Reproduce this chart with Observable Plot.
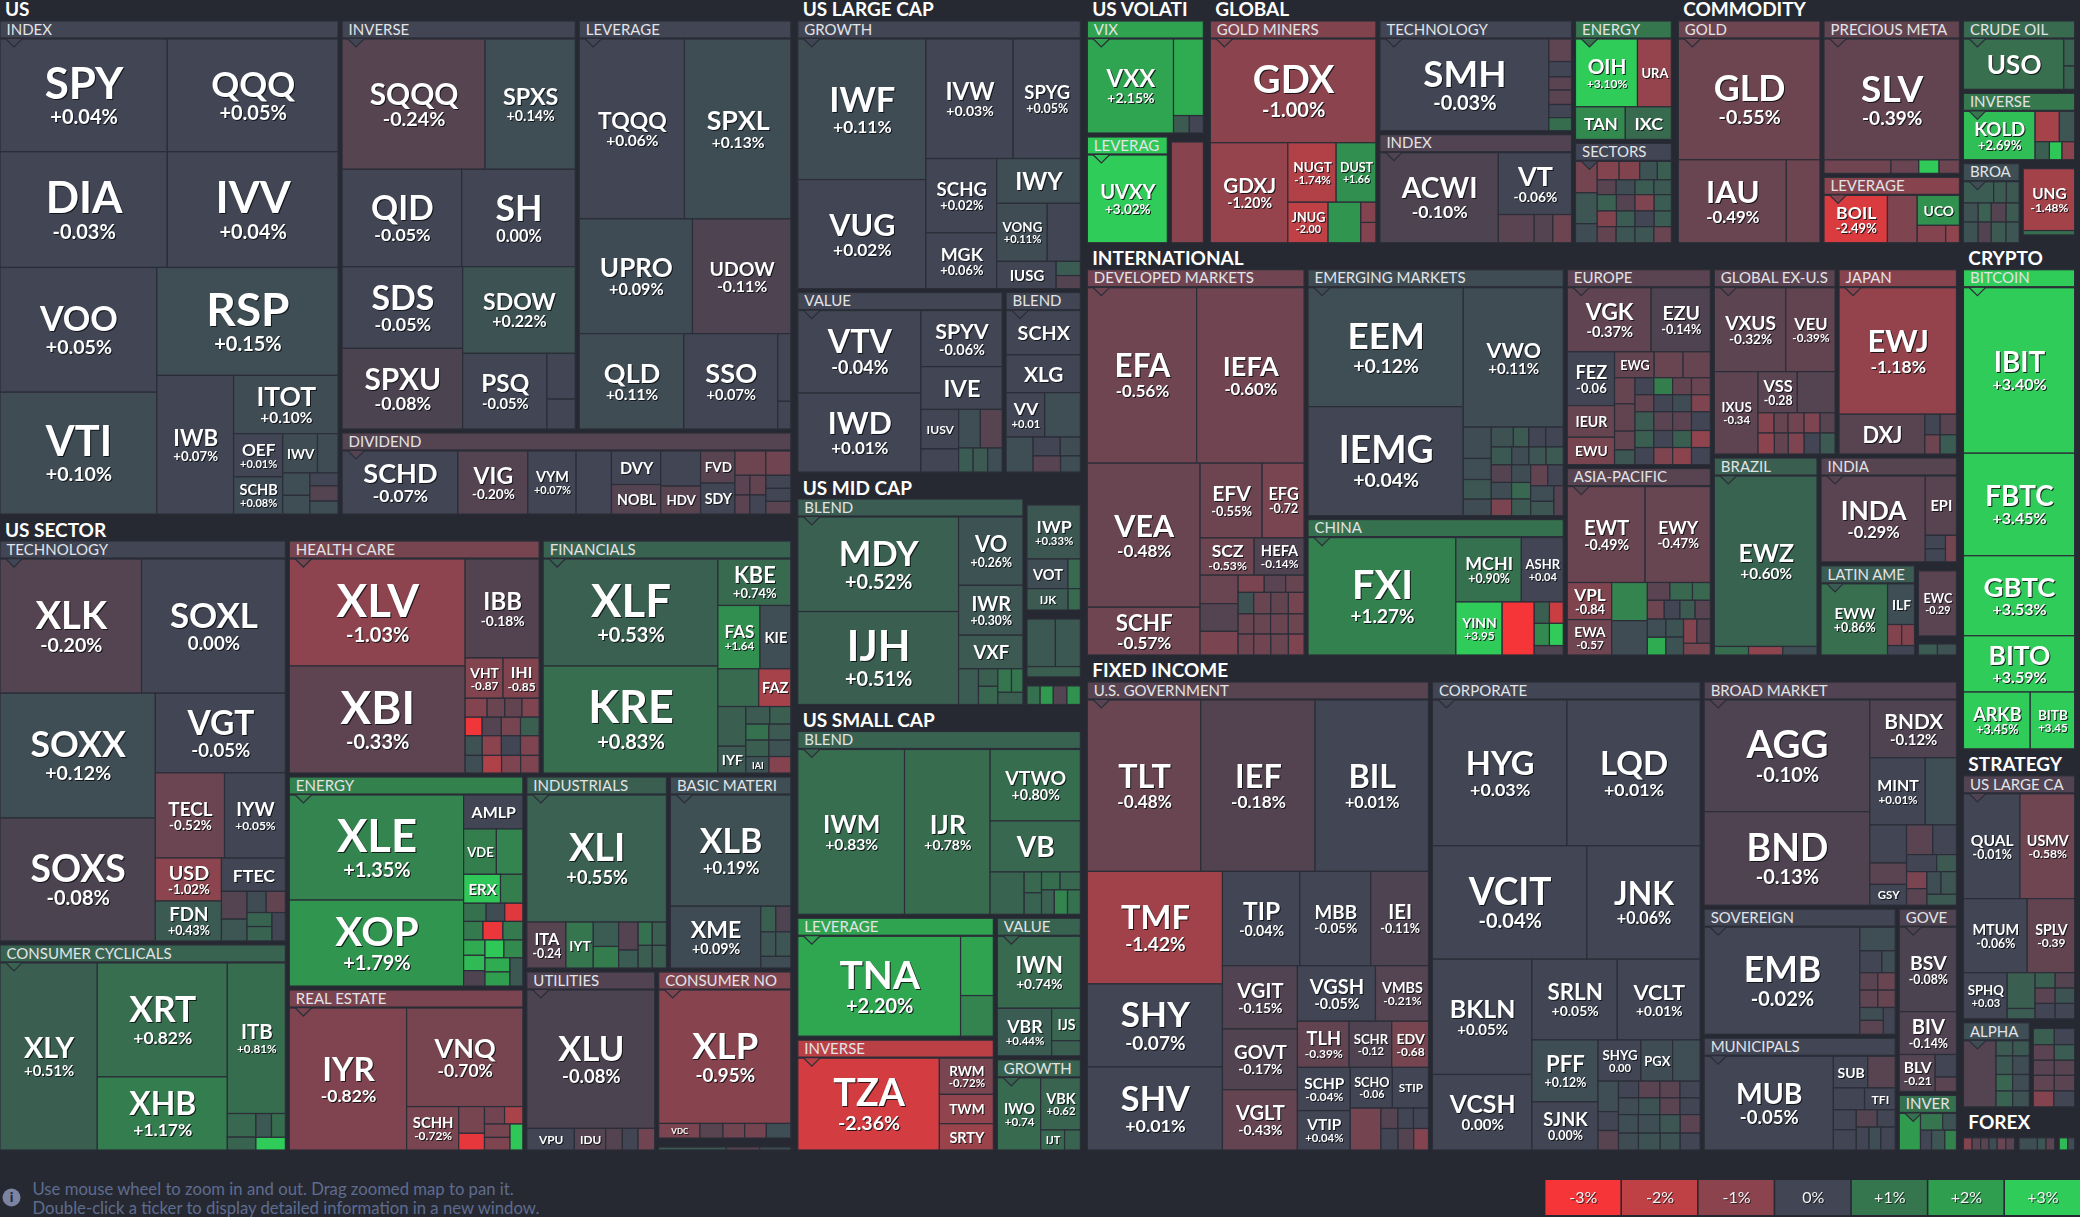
<!DOCTYPE html>
<html><head><meta charset="utf-8">
<style>html,body{margin:0;padding:0;background:#262931;overflow:hidden}</style>
<script src="https://cdn.jsdelivr.net/npm/d3@7"></script>
<script src="https://cdn.jsdelivr.net/npm/@observablehq/plot@0.6"></script>
</head><body><div id="chart"></div>
<script>
// Each leaf: [ticker, % change, size, (0 = change label not shown)]. Sizes are read off the picture.
const usIndex=["v",["h",["SPY",.04,186],["QQQ",.05,190]],["h",["DIA",-.03,191],["IVV",.04,195]],
 ["h",["v",["VOO",.05,193],["VTI",.1,188.5]],
  ["v",["RSP",.15,193],["h",["IWB",.07,105],["v",["ITOT",.1,60],
   ["h",["v",["OEF",.01,21],["SCHB",.08,18]],
    ["v",["h",["IWV",.1,13.5,0],["",.1,8]],["h",["v",["",.12,6],["",.12,5]],["v",["",-.03,3.6],["",-.2,4.2],["",.12,3.6]]]]]]]]]];
const usInverse=["v",["h",["SQQQ",-.24,187],["SPXS",.14,118]],["h",["QID",-.05,117],["SH",0,111]],
 ["h",["v",["SDS",-.05,99],["SPXU",-.08,97.5]],["v",["SDOW",.22,98],["h",["PSQ",-.05,64],["v",["",-.03,13],["",-.03,8.5]]]]]];
const usLeverage=["v",["h",["TQQQ",.06,188],["SPXL",.13,190]],["h",["UPRO",.09,129],["UDOW",-.11,112]],
 ["h",["QLD",.11,99],["SSO",.07,89],["v",["",-.03,8.8],["",-.03,3.6]]]];
const usDividend=["h",["SCHD",-.07,72],["VIG",-.2,43.5],["VYM",.07,30],["",-.03,22],["v",["DVY",-.05,16.3,0],["NOBL",-.2,14.3,0]],
 ["v",["",-.02,13.8],["HDV",-.25,11,0]],["v",["FVD",-.25,10.9,0],["SDY",-.05,10.5,0]],
 ["v",["h",["",-.55,7.4],["",-.6,6]],["h",["v",["",-.3,2.9],["",-.3,2.8]],["v",["",-.4,3.1],["",-.02,3]],["v",["",-.05,3.2],["",-.05,3.2],["",-.3,3.1]]]]];
const secTech=["v",["h",["XLK",-.2,187],["SOXL",0,190]],
 ["h",["v",["SOXX",.12,191],["SOXS",-.08,188]],
  ["v",["VGT",-.05,102],["h",["TECL",-.52,58],["IYW",.05,51]],
   ["h",["v",["USD",-1.02,28],["FDN",.43,26]],
    ["v",["FTEC",0,21,0],["h",["v",["",-.2,7],["",.3,5.5]],["v",["h",["",.1,4],["",-.4,4]],["h",["v",["",.6,3.4],["",.6,3.5]],["",-.03,3.8]]]]]]]]];
const secCyclical=["h",["XLY",.51,178],["v",["XRT",.82,145],["XHB",1.17,93]],
 ["v",["ITB",.81,85.5],["h",["v",["",.7,6.6],["",.6,3.6]],["v",["h",["",.35,3.6],["",.8,3.2]],["",3,3.7]]]]];
const secHealth=["h",["v",["XLV",-1.03,185],["XBI",-.33,185]],
 ["v",["IBB",-.18,72],["h",["VHT",-.87,15],["IHI",-.85,14.3]],
  ["h",["",-.9,4.1],["",-.5,3.3],["",-.4,3.2],["",-.8,3.2]],
  ["h",["",-2.9,3.1],["",-.2,3.5],["",-.7,3.5],["",.5,3.4]],
  ["h",["",.2,3.3],["",-1,3.7],["",0,3.7],["",-.8,3.6]],
  ["h",["",.15,3],["",-1.7,3.3],["",-.8,3.3],["",-.8,3.2]]]];
const secFinancials=["h",["v",["XLF",.53,182],["KRE",.83,182]],
 ["v",["KBE",.74,33],["h",["FAS",1.64,26],["KIE",.12,19,0]],["h",["",.75,15],["FAZ",-1.5,11.8,0]],
  ["h",["v",["",.5,10.8],["IYF",.4,7.3,0]],
   ["v",["h",["",.4,4.1],["",.5,3.6]],["h",["",.9,3.6],["",.4,3.4]],["h",["",.5,3.7],["",.2,3.5]],["h",["IAI",.25,3.7,0],["",-.9,3.5]]]]]];
const secEnergy=["h",["v",["XLE",1.35,178.5],["XOP",1.79,146]],
 ["v",["AMLP",.02,19.6,0],["h",["VDE",1.2,14.5,0],["",1.35,11.7]],["h",["ERX",2.9,10.4,0],["",1.2,6.3]],
  ["h",["",.9,4],["",.1,3.3],["",-2.6,3.2]],["h",["",1.1,3.5],["",-2.8,3.6],["",1.1,3.6]],
  ["h",["v",["",2.3,3.2],["",2.6,3.2],["",-.1,3.2]],
   ["v",["h",["",2.9,3.3],["",1.5,3.3]],["h",["v",["",2.3,3.4],["",2,3.4]],["",.35,3.6]]]]]];
const secRealEstate=["h",["IYR",-.82,162],["v",["VNQ",-.7,111.5],
 ["h",["SCHH",-.72,22],["v",["",-.7,6.7],["",-2.7,4.2]],["v",["h",["",-.6,3.4],["",-1.6,3.1]],["h",["v",["",-.7,3.3],["",-.8,3.1]],["",2.9,3.3]]]]]];
const secIndustrials=["v",["XLI",.55,172],["h",["ITA",-.24,17.4],["IYT",1,12.2,0],["v",["",.45,6],["",1.15,5.3]],["v",["",-.2,5.3],["",.45,3.4]],
 ["v",["h",["",.9,3.2],["",.5,3.2]],["h",["",.5,3.1],["",.5,3.1]]]]];
const secBasic=["v",["XLB",.19,132],["h",["XME",.09,55],["v",["h",["",.5,3.8],["",-.1,3.8]],["h",["",.3,3.6],["",.3,3.6]],["",.1,3.5]]]];
const secUtilities=["v",["XLU",-.08,172.5],["h",["VPU",-.02,10,0],["IDU",-.2,6.6,0],["",-.2,3.5],["",0,3.3],["",-.6,3.5]]];
const secNonCyclical=["v",["XLP",-.95,173],["h",["VDC",-.75,5.9,0],["",-.25,3.3],["",-.6,3.1],["",-.65,3.1],["",.15,3.5]]];
const secComm=["h",["",.35,63],["",-.3,31],["",.1,29]];

const lcGrowth=["h",["v",["IWF",.11,178],["VUG",.02,138]],
 ["v",["h",["IVW",.03,103],["SPYG",.05,79.5]],
  ["h",["v",["SCHG",.02,52],["MGK",.06,39]],
   ["v",["IWY",.12,37,0],["h",["VONG",.11,29],["",.05,19]],["h",["IUSG",.04,16,0],["v",["",.45,3.4],["",-.2,3.1]]]]]]];
const lcValue=["h",["v",["VTV",-.04,99.4],["IWD",.01,95]],
 ["v",["SPYV",-.06,44.5],["IVE",-.05,34,0],
  ["h",["v",["IUSV",-.05,14.6,0],["",-.02,8.5]],["v",["h",["",.15,8.2],["",-.25,8.2]],["h",["",.45,3.4],["",.4,3.4],["",.15,3.4]]]]]];
const lcBlend=["v",["SCHX",.03,32,0],["XLG",.07,27.4,0],["h",["VV",.01,16.7],["",.12,15.4]],
 ["h",["",.12,9.2],["v",["h",["",0,5],["",.1,3.7]],["h",["",-.25,4.3],["",.12,3.1]]]]];
const mcBlend=["h",["v",["MDY",.52,147.6],["IJH",.51,145]],
 ["v",["VO",.26,42.7],["IWR",.3,31.2],["VXF",.4,21,0],
  ["h",["",.45,6.9],["v",["",.5,3.3],["",.7,3.4]],["v",["h",["",1,3.1],["",1,2.6]],["",.5,3]]]]];
const mcSideA=["v",["IWP",.33,27.5],["h",["VOT",.1,11.6,0],["",.75,3.5]],["h",["IJK",.4,8.4,0],["",.75,2.5]]];
const mcSideB=["v",["h",["",.35,12.9],["",.35,11.3]],["",.5,5.3]];
const mcSideC=["h",["",.9,12],["",1.9,12],["",-.2,12.4],["",1.7,12.2]];
const scBlend=["h",["IWM",.83,174.6],["IJR",.78,140],
 ["v",["VTWO",.8,64],["VB",.7,45.7,0],
  ["h",["",.6,14.3],["v",["",.7,3.6],["",.6,3.7]],["v",["h",["",.8,3.3],["",.7,3.6]],["h",["",.55,3.1],["",1.35,3.2],["",.9,3.1]]]]]];
const scLeverage=["h",["TNA",2.2,159],["v",["",2.1,19],["",1.35,13]]];
const scInverse=["h",["TZA",-2.36,126.5],["v",["RWM",-.72,19],["TWM",-1.1,15.4,0],["SRTY",-1.3,13.8,0]]];
const scValue=["v",["IWN",.74,57.8],["h",["VBR",.44,25],["v",["IJS",.65,9,0],["",.5,4.2]]]];
const scGrowth=["h",["IWO",.74,30.7],["v",["VBK",.62,20.3],["h",["IJT",.7,4.7,0],["",.6,3.1]]]];

const volVix=["h",["VXX",2.15,79.4],["v",["",2.3,22.4],["h",["",.4,2.7],["",0,2.4]]]];
const volLeverage=["UVXY",3.02,1];
const volOther=["",-.95,1];

const glGoldMiners=["v",["GDX",-1,168.5],["h",["GDXJ",-1.2,76],
 ["v",["h",["NUGT",-1.74,28.2],["DUST",1.66,23.2]],["h",["JNUG",-2,16],["",1.8,13],["v",["",-.9,3],["",-.9,3]]]]]];
const glTech=["h",["SMH",-.03,151.6],["v",["",-.35,5],["",0,3.4],["",-.3,2.9],["",-.3,3.2],["",0,2.9],["",.8,2.9]]];
const glIndex=["h",["ACWI",-.1,105.6],["v",["VT",-.06,44.8],["h",["",-.3,10],["",-.2,5.2],["",-.55,5.2]]]];
const glEnergy=["v",["h",["OIH",3.1,41],["URA",-1.2,22.4,0]],["h",["TAN",1.5,15.8,0],["IXC",.75,14.6,0]]];
const glSectors=["h",["v",["",-.65,6.1],["",.3,6],["",.1,3.7]],
 ["v",["h",["",-.9,3.6],["",-.85,3.4],["",.25,2.9],["",.5,2.3]],
  ["h",["",-.25,2.5],["",.1,2.5],["",.45,2.5],["",.35,2.3]],
  ["h",["",.55,2.8],["",-.2,2.7],["",-.8,2.8],["",.45,2.5]],
  ["h",["",-.85,2.7],["",.45,2.6],["",-.05,2.7],["",.45,2.4]],
  ["h",["",-.4,2.7],["",.3,2.7],["",.3,2.7],["",-.5,2.5]]]];

const cmGold=["v",["GLD",-.55,169],["h",["IAU",-.49,88.5],["",-.55,27.6]]];
const cmPrecious=["v",["SLV",-.39,161.6],["h",["",-.6,8.9],["",-.5,3.7],["",2.95,2.7],["",-.55,2.7]]];
const cmLeverage=["h",["BOIL",-2.49,29.2],["",-.8,13.7],["v",["UCO",1.7,12.3,0],["h",["",-.9,4.8],["",-1.1,2.3]]]];
const cmCrude=["h",["USO",.85,50.2,0],["v",["",.6,2.9],["",.6,2.5]]];
const cmInverse=["h",["KOLD",2.69,33.8],["v",["h",["",-1.5,7.2],["",.3,4.5]],["h",["",.5,2.5],["",2.9,2.2],["",-1,2.2]]]];
const cmBroad=["v",["h",["",.45,5.7],["",.4,2.4],["",.35,2.4]],["h",["",.2,2.5],["",.55,2.2],["",-.2,2.5],["",.4,2.2]],["h",["",.25,2.7],["",-.15,2.4],["",.4,2.7],["",.3,2.4]]];
const cmUng=["v",["UNG",-1.48,31],["",.8,2.2]];

const inDeveloped=["v",["h",["EFA",-.56,187.7],["IEFA",-.6,184.4]],
 ["h",["v",["VEA",-.48,159],["SCHF",-.57,52.7]],
  ["v",["h",["EFV",-.55,45.4],["EFG",-.72,30.7]],["h",["SCZ",-.53,19.7],["HEFA",-.14,18.2]],
   ["h",["v",["",-.5,10.6],["",-.2,10.3],["",-.75,8.8]],
    ["v",["h",["",-.75,4.4],["",-.3,3.6],["",-.45,3.1]],["h",["",.2,3.3],["",-.5,3.6],["",-.4,3.7],["",-.65,3.3]],
     ["h",["",-.5,3.1],["",-.5,3.3],["",-.5,3.5],["",-.55,3.1]],["h",["",-.55,3.2],["",-.6,3.5],["",-.5,3.6],["",-.8,3.2]]]]]]];
const inEmerging=["h",["v",["EEM",.12,180.9],["IEMG",.04,165.7]],
 ["v",["VWO",.11,136.7],
  ["h",["v",["",.1,8.6],["",.15,5.8],["",.3,5.4],["",.1,4.5]],
   ["v",["h",["",.2,4.3],["",.4,3],["",.02,3.3],["",.03,3.4]],["h",["",.35,3.6],["",.1,3],["",.3,3],["",.4,3]],
    ["h",["v",["",-.2,3.5],["",.1,3.3],["",-.75,3.3]],["v",["",.1,3.3],["",.7,3.1],["",.4,3.1]],
     ["v",["h",["",-.4,3.5],["",0,3.2]],["h",["v",["",.12,3.5],["",.3,3.2]],["",-.2,2.8]]]]]]]];
const inChina=["h",["FXI",1.27,170.4],["v",["h",["MCHI",.9,41.4],["ASHR",.04,26.5]],
 ["h",["YINN",3.95,24.1],["",-3,16.7],["v",["h",["",.5,3.2],["",-2.2,2.9]],["h",["",1.5,3.3],["",3,3]],["",-.1,2.7]]]]];
const inEurope=["v",["h",["VGK",-.37,50.3],["EZU",-.14,35.5]],
 ["h",["v",["FEZ",-.06,23.8],["IEUR",-.45,14,0],["EWU",-.7,12.1,0]],
  ["v",["h",["EWG",-.4,9.6,0],["",-.5,7],["",-.45,6.6]],
   ["h",["v",["",-.45,5],["",-.4,5.2],["",-.4,3.6],["",.3,2.8]],
    ["v",["h",["",0,3],["",1.2,3],["",-.4,3],["",-.5,3]],["h",["",-.4,3],["",0,3],["",.1,3],["",-.8,3]],
     ["h",["",.4,3.3],["",-.3,3.3],["",-.3,3.3],["",0,3.3]],["h",["",.5,3],["",0,3],["",.5,3],["",-1.1,3]],
     ["h",["",0,3],["",-.8,3],["",-1,3],["",0,3]]]]]]];
const inAsia=["v",["h",["EWT",-.49,70.7],["EWY",-.47,59.3]],
 ["h",["v",["VPL",-.84,15.6],["EWA",-.57,14.9]],["v",["",1.35,12.9],["",.1,11.6]],
  ["v",["h",["",-.3,3.8],["",.7,3.8],["",.7,3]],["h",["",-.55,3],["",0,2.8],["",.4,2.7],["",-.25,2.7]],
   ["h",["v",["",.12,3.2],["",2.3,3.1]],["v",["",.25,3],["",.25,3]],["v",["h",["",-.9,3.05],["",-.25,3.05]],["",-.7,3]]]]]];
const inGlobalEx=["v",["h",["VXUS",-.32,57.5],["VEU",-.39,39.6]],
 ["h",["IXUS",-.34,34.5],["v",["h",["VSS",-.28,15.5],["",-.2,14.9]],
  ["h",["",-.9,3.1],["",-.45,2.7],["",-.6,3.1],["",-.8,3.1],["",-.25,2.9]],
  ["h",["",-1,3.3],["",-.4,2.8],["",-.8,3.2],["",.02,3.2],["",.4,3]]]]];
const inJapan=["v",["EWJ",-1.18,146.6],["h",["DXJ",-.25,33.7,0],["v",["h",["",0,3.1],["",-.25,3.3]],["h",["",-.55,2.9],["",.45,3.1]]]]];
const inBrazil=["v",["EWZ",.6,174],["h",["",.8,2.9],["",-1.1,2.9],["",.15,2.9]]];
const inIndia=["h",["INDA",-.29,88.7],["v",["EPI",-.25,18.3,0],["h",["v",["",-.05,2.7],["",-.05,2.6]],["",-.65,2.9]]]];
const inLatin=["h",["EWW",.86,46.3],["v",["ILF",.15,10.7,0],["h",["",-.85,2.9],["",-.85,2.6]],["",.05,2.5]]];
const inEwc=["EWC",-.29,1];
const inTiny=["h",["",.45,1],["",.2,1]];

const fiGov=["v",["h",["TLT",-.48,190.6],["IEF",-.18,192],["BIL",.01,190.5]],
 ["h",["v",["TMF",-1.42,149],["SHY",-.07,110],["SHV",.01,110]],
  ["v",["h",["TIP",-.04,71.5],["MBB",-.05,65.7],["IEI",-.11,53.3]],
   ["h",["v",["VGIT",-.15,46.5],["GOVT",-.17,44.6],["VGLT",-.43,44.3]],
    ["v",["h",["VGSH",-.05,42.5],["VMBS",-.21,28.8]],["h",["TLH",-.39,23.4],["SCHR",-.12,19.3],["EDV",-.68,16.6]],
     ["h",["v",["SCHP",-.04,22.4],["VTIP",.04,20.4]],
      ["v",["h",["SCHO",-.06,16.8],["STIP",-.02,14.4,0]],
       ["h",["",-.65,12.6],["v",["h",["",-.2,3.4],["",0,3.1],["",0,3]],["h",["",0,3.6],["",-.2,3.3],["",-.9,3.1]]]]]]]]]]];
const fiCorp=["v",["h",["HYG",.03,192.3],["LQD",.01,190.4]],["h",["VCIT",-.04,171.6],["JNK",.06,125.8]],
 ["h",["v",["BKLN",.05,112.4],["VCSH",0,73.7]],
  ["v",["h",["SRLN",.05,67.6],["VCLT",.01,65.6]],
   ["h",["v",["PFF",.12,40.1],["SJNK",0,31.2]],
    ["v",["h",["SHYG",0,17.3],["PGX",.1,12.8,0],["",.12,11.1]],
     ["h",["v",["",.12,6.1],["",-.03,3.8],["",-.25,3.9]],
      ["v",["h",["",0,3.3],["",-.3,3.5],["",-.3,3.3],["",0,3.3]],["h",["",.1,3.3],["",.25,3.5],["",-.3,3.3],["",0,3.3]],
       ["h",["",.12,3.6],["",.15,3.9],["",.3,3.7],["",-.3,3.6]],["h",["",.1,3.3],["",.25,3.6],["",.25,3.3],["",0,3.3]]]]]]]]];
const fiBroad=["h",["v",["AGG",-.1,181.3],["BND",-.13,151.7]],
 ["v",["BNDX",-.12,49],["h",["MINT",.01,36.5],["",.15,20.5]],
  ["h",["v",["",0,13.7],["",-.3,7.7],["GSY",.02,7.5,0]],
   ["v",["h",["",-.3,7.6],["",-.02,6.9]],["h",["",.02,5],["",.4,3.3]],
    ["h",["v",["",-.75,3.4],["",-.3,3.3]],["v",["h",["",.15,3.1],["",.3,3.4]],["",.4,3.2]]]]]]];
const fiSovereign=["h",["EMB",-.02,165.5],["v",["",.12,8.3],["h",["",0,4.8],["",.12,2.9]],["h",["",-.3,3.1],["",-.5,3]],["h",["",-.35,3.1],["",-.45,3]],
 ["h",["v",["",.12,3],["",-.3,3.2]],["",-.02,3.2]]]];
const fiMuni=["h",["MUB",-.05,117],["v",["h",["SUB",-.03,10.5,0],["",-.25,8.4]],["h",["",-.02,6.6],["TFI",-.02,6.5,0]],
 ["h",["v",["",-.02,4.4],["",0,4.5]],["v",["h",["",-.2,3.5],["",-.02,3]],["h",["",0,2.8],["",.12,2.6],["",-.02,3.2]]]]]];
const fiGove=["v",["BSV",-.08,47.3],["BIV",-.14,24],["h",["BLV",-.21,13],["v",["",-.02,4.7],["",-.3,3]]]];
const fiInverse=["h",["",1.9,7.1],["v",["h",["",1,3.4],["",.25,2.1]],["h",["",0,2],["",.3,2.4],["",1.3,2.1]]]];

const crBitcoin=["v",["IBIT",3.4,182.4],["FBTC",3.45,113],["GBTC",3.53,88.2],["BITO",3.59,62],["h",["ARKB",3.45,37.6],["BITB",3.45,25]]];
const stLarge=["v",["h",["QUAL",-.01,57.6],["USMV",-.58,55.6]],["h",["MTUM",-.06,45.9],["SPLV",-.39,34.1]],
 ["h",["SPHQ",.03,19.6],["v",["",.5,9.7],["",.45,2.8]],["v",["h",["",.5,3],["",-.2,2.9]],["h",["",-.3,3],["",.25,2.9]],["h",["",0,3],["",0,2.9]]]]];
const stAlpha=["h",["",-.2,19.6],["v",["h",["",.4,2.3],["",.35,2.3]],["h",["",.35,2.8],["",.1,2.8]],["h",["",.65,2.5],["",.1,2.5]],["h",["",.6,2.4],["",.2,2.4]]]];
const stOther=["v",["h",["",.5,3],["",-.05,2.9]],["h",["",-.3,2.9],["",.45,2.8]],["h",["",-.25,2.8],["",-.25,2.7]],["h",["",-.35,2.9],["",-.3,2.8]],["h",["",-.9,2.9],["",-.05,2.9]]];
const fxCells=["h",["",-.9,23],["",-.3,23],["",-.3,22],["",.1,22],["",-.5,23],["",-.3,23],[null,0,12],["",.15,49],["",.3,23],["",-.3,23],[null,0,12],["",2.6,23],["",.1,18]];

// Map arrangement: s = market, g = sub-group (name, header change, size, cells, header height)
const s=(name,size,body)=>({kind:"sector",name,size,body});
const g=(name,change,size,body,head=18)=>({kind:"group",name,change,size,body,head});
const layout=["h",
 ["v",
  s("US",4149,["h",g("INDEX",.03,1700,usIndex),
    ["v",["h",g("INVERSE",.02,977,usInverse),g("LEVERAGE",.04,888,usLeverage)],g("DIVIDEND",-.2,385,usDividend)]]),
  s("US SECTOR",5074,["h",
    ["v",g("TECHNOLOGY",-.03,1169,secTech),g("CONSUMER CYCLICALS",.6,605,secCyclical)],
    ["v",["h",g("HEALTH CARE",-.7,599,secHealth),g("FINANCIALS",.6,594,secFinancials)],
     ["h",["v",g("ENERGY",1.3,506,secEnergy),g("REAL ESTATE",-.75,389.5,secRealEstate)],
      ["v",["h",g("INDUSTRIALS",.5,280,secIndustrials),g("BASIC MATERI",.12,242.6,secBasic)],
       ["h",g("UTILITIES",-.15,240,secUtilities),["v",g("CONSUMER NO",-.8,231.5,secNonCyclical),g(null,0,16.3,secComm,5)]]]]]])],
 ["v",
  s("US LARGE CAP",1384,["v",g("GROWTH",.05,778,lcGrowth),["h",g("VALUE",-.02,382,lcValue),g("BLEND",.03,143.5,lcBlend)]]),
  s("US MID CAP",673,["h",g("BLEND",.45,480,mcBlend),["v",g(null,0,66,mcSideA,6),g(null,0,38.4,mcSideB,5),g(null,0,15.8,mcSideC,5)]]),
  s("US SMALL CAP",1290,["v",g("BLEND",.6,535.8,scBlend),
    ["h",["v",g("LEVERAGE",2.1,243.4,scLeverage),g("INVERSE",-1.9,227.4,scInverse)],["v",g("VALUE",.6,123.3,scValue),g("GROWTH",.6,82,scGrowth)]]])],
 ["v",
  ["h",
   s("US VOLATI",306,["v",g("VIX",2.1,138.7,volVix),["h",g("LEVERAG",2.9,91.8,volLeverage),g(null,0,39.4,volOther,5)]]),
   s("GLOBAL",1164,["h",g("GOLD MINERS",-.85,382,glGoldMiners),["v",g("TECHNOLOGY",0,222,glTech),g("INDEX",-.15,218.7,glIndex)],
     ["v",g("ENERGY",1,122,glEnergy),g("SECTORS",0,103,glSectors)]]),
   s("COMMODITY",1003,["h",g("GOLD",-.55,328.6,cmGold),["v",g("PRECIOUS META",-.4,217.9,cmPrecious),g("LEVERAGE",-.95,96.7,cmLeverage)],
     ["v",g("CRUDE OIL",.75,83.3,cmCrude),g("INVERSE",1.05,81,cmInverse),
      ["h",g("BROA",.15,49.6,cmBroad),["v",g(null,0,41.7,cmUng,5),[null,0,4.3]]]]])],
  ["h",
   ["v",
    s("INTERNATIONAL",3612,["h",g("DEVELOPED MARKETS",-.6,860.7,inDeveloped),
      ["v",g("EMERGING MARKETS",.1,648.8,inEmerging),g("CHINA",.9,362,inChina)],
      ["v",g("EUROPE",-.3,293,inEurope),g("ASIA-PACIFIC",-.25,280.5,inAsia)],
      ["v",["h",g("GLOBAL EX-U.S",-.3,235.3,inGlobalEx),g("JAPAN",-.95,229,inJapan)],
       ["h",g("BRAZIL",.5,214.8,inBrazil),["v",g("INDIA",-.22,150.6,inIndia),
         ["h",g("LATIN AME",.45,90.9,inLatin),["v",g(null,0,31.2,inEwc,5),g(null,0,8,inTiny,4)]]]]]]),
    s("FIXED INCOME",4337,["h",g("U.S. GOVERNMENT",-.25,1632.3,fiGov),g("CORPORATE",0,1285,fiCorp),
      ["v",g("BROAD MARKET",-.15,583.6,fiBroad),
       ["h",["v",g("SOVEREIGN",0,252.3,fiSovereign),g("MUNICIPALS",0,226.3,fiMuni)],["v",g("GOVE",-.12,114.2,fiGove),g("INVER",.9,35.9,fiInverse)]]]])],
   ["v",
    s("CRYPTO",598,g("BITCOIN",3.3,1,crBitcoin)),
    s("STRATEGY",423,["v",g("US LARGE CA",-.15,284.5,stLarge),["h",g("ALPHA",.15,61.5,stAlpha),g(null,0,39.9,stOther,5.7)]]),
    s("FOREX",51,g(null,0,1,fxCells,4))]]]];

const colorDomain=[-3,-2,-1,-.55,-.08,-.07,.07,.08,1,2,3];
const colorRange=["#f63538","#bf4045","#8b444e","#6d4551","#4c4351","#414554","#414554","#3f4b54","#35764e","#2f9e4f","#30cc5a"];
const legendValues=[-3,-2,-1,0,1,2,3];
const legendLabels=["-3%","-2%","-1%","0%","+1%","+2%","+3%"];
const footerLines=["Use mouse wheel to zoom in and out. Drag zoomed map to pan it.","Double-click a ticker to display detailed information in a new window."];

const W=2080,H=1217,BG="#262931",LINE="#2b2e38";

function build(x){
  if(!Array.isArray(x)) return {...x,children:[build(x.body)]};
  if(x[0]==="h"||x[0]==="v") return {dir:x[0],children:x.slice(1).map(build)};
  return {kind:x[0]===null?"gap":"leaf",ticker:x[0],change:x[1],size:x[2],showChange:x[3]!==0};
}
const tile=(p,x0,y0,x1,y1)=>{
  const total=d3.sum(p.children,c=>c.value), horizontal=p.data.dir==="h";
  let t=horizontal?x0:y0; const k=((horizontal?x1-x0:y1-y0))/total;
  for(const c of p.children){
    c.x0=horizontal?t:x0; c.x1=horizontal?t+c.value*k:x1;
    c.y0=horizontal?y0:t; c.y1=horizontal?y1:t+c.value*k;
    t+=c.value*k;
  }
};
const root=d3.hierarchy(build(layout),d=>d.children);
root.eachAfter(n=>{n.value=n.data.size??d3.sum(n.children,c=>c.value)});
d3.treemap().size([2081.6,1156]).tile(tile)
 .paddingTop(n=>n.data.kind==="sector"?23:n.data.kind==="group"?n.data.head:0)
 .paddingRight(n=>n.data.kind==="sector"?3:n.data.kind==="group"?4:0)
 .paddingBottom(n=>n.data.kind==="group"?4:0)(root);
const OFF=-2;
const nodes=root.descendants();
const cells=nodes.filter(n=>n.data.kind==="leaf").map(n=>({...n.data,x1:n.x0,x2:n.x1,y1:n.y0+OFF,y2:n.y1+OFF}));
const heads=nodes.filter(n=>n.data.kind==="group"&&n.data.name).map(n=>({name:n.data.name,change:n.data.change,x1:n.x0,x2:n.x1-4,y1:n.y0+OFF,y2:n.y0+OFF+17}));
const titles=nodes.filter(n=>n.data.kind==="sector").map(n=>({name:n.data.name,x:n.x0+4.4,y:n.y0+OFF+(n.y0<1?17:18)}));

const ctx=document.createElement("canvas").getContext("2d");ctx.font="700 100px Lato";
const em=t=>ctx.measureText(t).width/100;
const fmt=(v,w)=>{const a=Math.abs(v).toFixed(2);const sgn=v>0?"+":v<0?"-":"";return sgn+a+(w>=47.5?"%":"")};
const labels=[];
for(const c of cells){
  if(!c.ticker) continue;
  const w=c.x2-c.x1,h=c.y2-c.y1,cx=(c.x1+c.x2)/2,cy=(c.y1+c.y2)/2,n=c.ticker.length;
  let tf=Math.min(.215*w+20-4*n,Math.min((.07+.115*n)*w+13,.85*w)/em(c.ticker),46);
  if(c.showChange){
    tf=Math.min(tf,.47*h);
    const text=fmt(c.change,w);
    const cf=Math.min(Math.min((24+.27*w)*text.length/6,.85*w)/em(text),tf*.85,20);
    const capT=tf*.72,capC=cf*.72,gap=Math.max(3,tf*.25),top=cy-(capT+gap+capC)/2;
    labels.push({text:c.ticker,fs:tf,x:cx,y:top+capT});
    labels.push({text,fs:cf,x:cx,y:top+capT+gap+capC});
  } else {
    tf=Math.min(tf,.55*h);
    labels.push({text:c.ticker,fs:tf,x:cx,y:cy+tf*.36});
  }
}
const xs=d=>d.x, ys=d=>d.y;
const legend=legendValues.map((v,i)=>({v,label:legendLabels[i],x1:W-(7-i)*76.6+1.6,x2:W-(7-i)*76.6+76.6,y1:1180,y2:1215}));
const footer=footerLines.map((t,i)=>({t,x:32,y:1194+i*19}));
const notch={draw(c){c.moveTo(-8.5,0);c.lineTo(0,8.5);c.lineTo(8.5,0);c.closePath();}};

const chart=Plot.plot({
  width:W,height:H,margin:0,
  style:{background:BG,fontFamily:"Lato"},
  x:{domain:[0,W],range:[0,W],axis:null},
  y:{domain:[0,H],range:[0,H],axis:null},
  color:{type:"linear",domain:colorDomain,range:colorRange,clamp:true},
  marks:[
    Plot.rect(cells,{x1:"x1",x2:"x2",y1:"y1",y2:"y2",fill:d=>d.change,stroke:LINE,strokeWidth:1.2}),
    Plot.dot(heads,{x:d=>d.x1+13.5,y:"y2",fill:d=>d.change,stroke:LINE,strokeWidth:1.2,symbol:notch,r:3}),
    Plot.rect(heads,{x1:"x1",x2:"x2",y1:"y1",y2:"y2",fill:d=>d.change,stroke:LINE,strokeWidth:1.2}),
    Plot.text(heads,{x:d=>d.x1+6,y:d=>d.y1+13.2,text:"name",lineAnchor:"bottom",textAnchor:"start",fontSize:15,fill:"#e2e3e6"}),
    Plot.text(titles,{x:xs,y:ys,text:"name",lineAnchor:"bottom",textAnchor:"start",fontSize:19,fontWeight:700,fill:"#ffffff",letterSpacing:"-0.3px"}),
    Plot.text(labels,{x:xs,y:ys,text:"text",lineAnchor:"bottom",fontSize:"fs",fontWeight:700,fill:"#ffffff"}),
    Plot.rect(legend,{x1:"x1",x2:"x2",y1:"y1",y2:"y2",fill:"v"}),
    Plot.text(legend,{x:d=>(d.x1+d.x2)/2,y:1197.5,text:"label",fontSize:16,fill:"#f4f4f4"}),
    Plot.dot([{x:11,y:1197}],{x:"x",y:"y",r:9,fill:"#7b84a3"}),
    Plot.text([{x:11,y:1197}],{x:"x",y:"y",text:()=>"i",fontSize:14,fontWeight:900,fill:BG}),
    Plot.text(footer,{x:"x",y:"y",text:"t",lineAnchor:"bottom",textAnchor:"start",fontSize:16.7,fill:"#5f6c8f"})
  ]
});
document.getElementById("chart").appendChild(chart);
// The map's labels carry a hard dark drop shadow
const textLayers=chart.querySelectorAll('g[aria-label="text"]');
textLayers[2].style.filter="drop-shadow(1.2px 1.2px 0.3px rgba(12,14,18,.85))";
textLayers[3].style.filter="drop-shadow(1px 1px 0.3px rgba(12,14,18,.7))";
</script></body></html>
